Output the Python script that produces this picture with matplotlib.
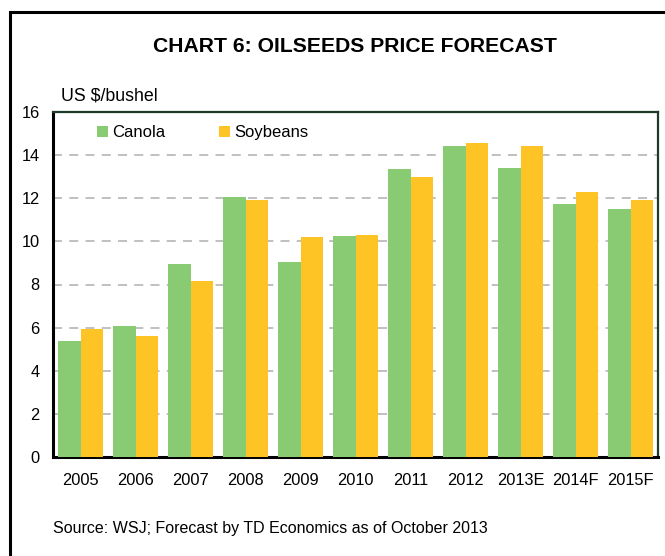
import numpy as np
import matplotlib
matplotlib.use("Agg")
import matplotlib.pyplot as plt
from matplotlib.patches import Rectangle

plt.rcParams["font.family"] = ["Liberation Sans", "DejaVu Sans"]

YEARS = ["2005", "2006", "2007", "2008", "2009", "2010", "2011", "2012",
         "2013E", "2014F", "2015F"]
CANOLA = [5.37, 6.07, 8.94, 12.05, 9.03, 10.23, 13.35, 14.42, 13.40, 11.73, 11.49]
SOYBEANS = [5.93, 5.60, 8.15, 11.91, 10.19, 10.29, 12.98, 14.55, 14.42, 12.28, 11.91]

GREEN = "#88CB72"
YELLOW = "#FEC426"

fig = plt.figure(figsize=(6.65, 5.56), dpi=100)
ax = fig.add_axes([53 / 665, 1 - 457 / 556, 605 / 665, 345 / 556])

# outer frame of the chart box
fig.patches.append(Rectangle((10 / 665, -0.05), 1.0, 1 - 12 / 556 + 0.05,
                             transform=fig.transFigure, fill=False,
                             edgecolor="black", lw=2.2))

x = np.arange(len(YEARS))
w = 0.41
ax.bar(x - w / 2, CANOLA, width=w, color=GREEN, label="Canola", zorder=3)
ax.bar(x + w / 2, SOYBEANS, width=w, color=YELLOW, label="Soybeans", zorder=3)

ax.set_xlim(-0.5, len(YEARS) - 0.5)
ax.set_ylim(0, 16)
ax.set_yticks(range(0, 17, 2))
ax.set_xticks(x)
ax.set_xticklabels(YEARS)
ax.tick_params(axis="both", length=0, labelsize=11.8)
ax.tick_params(axis="y", pad=9.5)
ax.tick_params(axis="x", pad=11.5)

ax.yaxis.grid(True, ls=(0, (5, 4)), color="#BBBBBB", lw=1.3, zorder=0)
ax.set_axisbelow(True)

for s in ("top", "right"):
    ax.spines[s].set_color("#1E3A28")
    ax.spines[s].set_linewidth(1.6)
for s in ("left", "bottom"):
    ax.spines[s].set_color("black")
    ax.spines[s].set_linewidth(2.2)

ax.legend(loc="upper left", ncol=2, frameon=False, fontsize=12,
          handlelength=0.66, handleheight=0.66, handletextpad=0.25,
          columnspacing=3.2, borderpad=0, borderaxespad=0,
          bbox_to_anchor=(44 / 605, (457 - 125) / 345))

fig.text(355 / 665, 1 - 47 / 556, "CHART 6: OILSEEDS PRICE FORECAST",
         ha="center", va="center", fontsize=15.2, fontweight="bold")
fig.text(61 / 665, 1 - 96 / 556, "US $/bushel", ha="left", va="center",
         fontsize=12.8)
fig.text(53 / 665, 1 - 528 / 556,
         "Source: WSJ; Forecast by TD Economics as of October 2013",
         ha="left", va="center", fontsize=11.5)

fig.savefig("out.png", dpi=100)
